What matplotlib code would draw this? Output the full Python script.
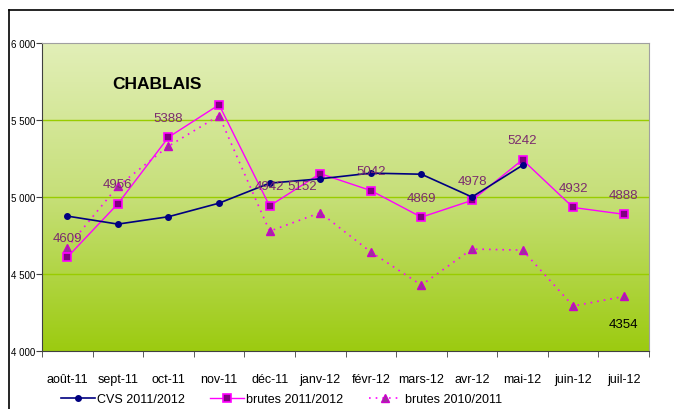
import numpy as np
import matplotlib
matplotlib.use("Agg")
import matplotlib.pyplot as plt
from matplotlib.lines import Line2D
from matplotlib.colors import LinearSegmentedColormap
from matplotlib.ticker import FuncFormatter, MultipleLocator, FixedLocator

plt.rcParams['font.family'] = ['Liberation Sans Narrow', 'Liberation Sans', 'DejaVu Sans']

months = ["août-11", "sept-11", "oct-11", "nov-11", "déc-11", "janv-12",
          "févr-12", "mars-12", "avr-12", "mai-12", "juin-12", "juil-12"]
cvs_2011_2012 = [4876, 4824, 4872, 4960, 5090, 5118, 5155, 5148, 5000, 5206]
brutes_2011_2012 = [4609, 4956, 5388, 5599, 4942, 5152, 5042, 4869, 4978, 5242, 4932, 4888]
brutes_2010_2011 = [4672, 5070, 5330, 5528, 4778, 4898, 4643, 4428, 4662, 4655, 4292, 4354]
labels_2011_2012 = ["4609", "4956", "5388", "", "4942", "5152", "5042", "4869", "4978", "5242", "4932", "4888"]
label_juil_2010 = "4354"
title = "CHABLAIS"

fig = plt.figure(figsize=(6.74, 4.10), dpi=100)
fig.patch.set_facecolor("white")
ax = fig.add_axes([42/674, 1-352/410, (649-42)/674, (352-44)/410])

x = np.arange(len(months))
ax.set_xlim(-0.5, len(months) - 0.5)
ax.set_ylim(4000, 6000)

# gradient background
cmap = LinearSegmentedColormap.from_list("g", ["#9CCB10", "#C6DF78", "#E2EFB8"])
grad = np.linspace(0, 1, 256).reshape(-1, 1)
ax.imshow(grad, aspect="auto", cmap=cmap, origin="lower",
          extent=[-0.5, len(months) - 0.5, 4000, 6000], zorder=0)

for yv in [4500, 5000, 5500]:
    ax.axhline(yv, color="#99CC00", lw=1.0, zorder=1)

ax.plot(x[:len(cvs_2011_2012)], cvs_2011_2012, color="#000080", lw=1.2,
        marker="o", ms=4, mfc="#000080", mec="#000080", zorder=5,
        label="CVS 2011/2012")
ax.plot(x, brutes_2011_2012, color="#FF00FF", lw=1.0,
        marker="s", ms=6, mfc="#800080", mec="#FF00FF", mew=1.2, zorder=4,
        label="brutes 2011/2012")
ax.plot(x, brutes_2010_2011, color="#FF00FF", lw=1.2, ls=(0, (1, 3)),
        marker="^", ms=6, mfc="#993399", mec="#CC00CC", zorder=3,
        label="brutes 2010/2011")

lab_col = "#7B2B6E"
offsets = {5: (-13, -9)}
for i, (v, t) in enumerate(zip(brutes_2011_2012, labels_2011_2012)):
    if not t:
        continue
    dx, dy = offsets.get(i, (0, 14))
    ax.annotate(t, (x[i], v), xytext=(dx, dy), textcoords="offset points",
                ha="center", va="center", color=lab_col, fontsize=9.5, zorder=6)
ax.annotate(label_juil_2010, (x[-1], brutes_2010_2011[-1]), xytext=(0, -20),
            textcoords="offset points", ha="center", va="center",
            color="black", fontsize=9.5, zorder=6)

ax.text(1.78, 5740, title, fontsize=12.5, fontweight="bold", ha="center",
        va="center", color="black", zorder=6)

# axes styling
for side in ["top", "right"]:
    ax.spines[side].set_color("#A0A0A0")
ax.spines["left"].set_color("#404040")
ax.spines["bottom"].set_color("#404040")
ax.yaxis.set_major_locator(MultipleLocator(500))
ax.yaxis.set_major_formatter(FuncFormatter(lambda v, p: f"{int(v):,}".replace(",", " ")))
ax.tick_params(axis="y", labelsize=7, length=4, direction="out", pad=1, colors="#404040", labelcolor="black")
ax.xaxis.set_major_locator(FixedLocator(x))
ax.set_xticklabels(months)
ax.xaxis.set_minor_locator(FixedLocator(np.arange(-0.5, len(months), 1.0)))
ax.tick_params(axis="x", which="major", length=0, pad=16, labelsize=9)
ax.tick_params(axis="x", which="minor", length=4, direction="out", color="#404040")

# outer frame
fig.add_artist(Line2D([9/674, 9/674], [0, 1-11/410], color="black", lw=1.2, transform=fig.transFigure))
fig.add_artist(Line2D([9/674, 1], [1-11/410, 1-11/410], color="black", lw=1.2, transform=fig.transFigure))

fig.legend(loc="center left", bbox_to_anchor=(61/674, 10/410), ncol=3, frameon=False,
           fontsize=9, handlelength=2.7, handletextpad=0.2, columnspacing=2.0,
           borderpad=0, borderaxespad=0)

fig.savefig("out.png", dpi=100, facecolor="white")
